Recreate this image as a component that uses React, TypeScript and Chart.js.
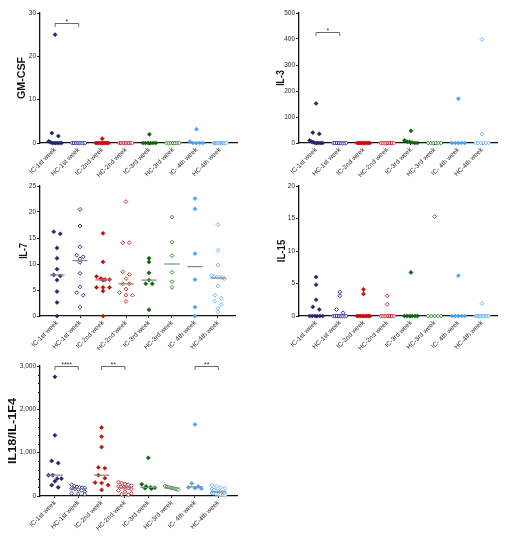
import React, { useEffect, useRef } from 'react';
import { Chart, registerables } from 'chart.js';

Chart.register(...registerables);
Chart.defaults.font.family = '"Liberation Sans", Arial, Helvetica, sans-serif';

// ---------------- DATA ----------------
const categories = [
  'IC-1st week',
  'HC-1st week',
  'IC-2nd week',
  'HC-2nd week',
  'IC-3rd week',
  'HC-3rd week',
  'IC- 4th week',
  'HC-4th week',
];

const gmcsfValues: number[][] = [
  [25, 2.3, 1.6, 0.4, 0.2, 0, 0, 0, 0, 0, 0],
  [0, 0, 0, 0, 0, 0, 0, 0],
  [1.0, 0, 0, 0, 0, 0, 0, 0, 0, 0, 0],
  [0, 0, 0, 0, 0, 0, 0, 0, 0],
  [2.0, 0, 0, 0, 0, 0, 0],
  [0, 0, 0, 0, 0, 0, 0],
  [3.2, 0.3, 0, 0, 0, 0],
  [0, 0, 0, 0, 0, 0, 0, 0, 0, 0, 0, 0],
];

const il3Values: number[][] = [
  [152, 40, 35, 10, 5, 3, 0, 0, 0, 0, 0],
  [0, 0, 0, 0, 0, 0, 0, 0],
  [0, 0, 0, 0, 0, 0, 0, 0, 0, 0],
  [0, 0, 0, 0, 0, 0, 0, 0],
  [47, 10, 5, 4, 2, 0, 0],
  [0, 0, 0, 0, 0, 0],
  [170, 0, 0, 0, 0, 0],
  [398, 35, 0, 0, 0, 0, 0, 0],
];

const il7Values: number[][] = [
  [16.2, 15.8, 13.1, 11.1, 9.0, 7.9, 7.7, 6.9, 4.7, 2.6, 0],
  [20.5, 17.3, 13.3, 11.7, 11.4, 11.0, 10.3, 8.2, 5.6, 4.5, 4.0, 1.7],
  [15.9, 10.4, 7.6, 7.2, 7.0, 7.0, 6.9, 5.5, 5.5, 5.5, 4.8, 0],
  [22.0, 14.1, 14.1, 8.5, 8.0, 7.2, 6.2, 6.2, 5.2, 4.5, 4.0, 4.0, 2.8],
  [11.1, 10.4, 8.3, 6.9, 6.2, 6.2, 1.2],
  [19.0, 14.2, 11.6, 8.4, 6.6, 5.5],
  [22.6, 20.6, 12.0, 7.0, 1.7, 0],
  [17.6, 12.6, 9.8, 7.8, 7.6, 7.5, 7.5, 7.4, 7.2, 5.8, 4.0, 3.4, 2.8, 2.2, 1.5, 0.8],
];

const il15Values: number[][] = [
  [6.0, 4.8, 2.5, 1.4, 1.0, 0, 0, 0, 0, 0, 0],
  [3.7, 3.1, 1.0, 0.5, 0, 0, 0, 0, 0, 0, 0, 0],
  [4.1, 3.4, 0, 0, 0, 0, 0, 0, 0, 0, 0],
  [3.1, 1.8, 0, 0, 0, 0, 0, 0, 0, 0],
  [6.7, 0, 0, 0, 0, 0, 0],
  [15.3, 0, 0, 0, 0, 0],
  [6.2, 0, 0, 0, 0, 0],
  [1.9, 0, 0, 0, 0, 0, 0, 0, 0, 0, 0],
];

const il18Values: number[][] = [
  [2750, 1400, 810, 760, 480, 480, 400, 400, 340, 250, 200],
  [260, 230, 210, 200, 190, 185, 175, 165, 150, 130, 100, 60, 50, 40],
  [1580, 1370, 1130, 660, 640, 480, 410, 310, 300, 250, 140],
  [320, 300, 280, 260, 240, 220, 210, 200, 190, 180, 160, 130, 100, 60, 40, 30],
  [880, 270, 220, 200, 190, 180, 170],
  [230, 215, 200, 190, 180, 170, 160, 150],
  [1650, 290, 220, 200, 180, 170],
  [250, 220, 200, 180, 160, 140, 125, 110, 100, 90, 80, 70, 60, 50, 40, 30, 20, 10],
];

const gmcsfTicks = [0, 10, 20, 30];
const il3Ticks = [0, 100, 200, 300, 400, 500];
const il7Ticks = [0, 5, 10, 15, 20, 25];
const il15Ticks = [0, 5, 10, 15, 20];
const il18Ticks = [0, 1000, 2000, 3000];

type Bracket = { from: number; to: number; y: number; label: string };
const gmcsfBrackets: Bracket[] = [{ from: 0, to: 1, y: 27.7, label: '*' }];
const il3Brackets: Bracket[] = [{ from: 0, to: 1, y: 428, label: '*' }];
const il18Brackets: Bracket[] = [
  { from: 0, to: 1, y: 3000, label: '****' },
  { from: 2, to: 3, y: 3000, label: '**' },
  { from: 6, to: 7, y: 3000, label: '**' },
];

// ---------------- STYLE ----------------
const seriesColors = ['#26266b', '#3535a3', '#c40f0f', '#c8303a', '#0b650b', '#358a35', '#4ea3f3', '#6db5f7'];
const filledSeries = [true, false, true, false, true, false, true, false];

type Rect = { left: number; top: number; width: number; height: number };
type Area = { left: number; top: number; right: number; bottom: number };
type PanelCfg = {
  title: string;
  values: number[][];
  yTicks: number[];
  brackets: Bracket[];
  rect: Rect;
  area: Area; // page coordinates
  xMin: number;
  xMax: number;
  titleX: number; // page coordinate
  titleStretch: number;
  showMedian: boolean;
  minorStep: number;
};

const panels: PanelCfg[] = [
  {
    title: 'GM-CSF', values: gmcsfValues, yTicks: gmcsfTicks, brackets: gmcsfBrackets,
    rect: { left: 0, top: 0, width: 254, height: 180 },
    area: { left: 40, top: 13, right: 237, bottom: 143 },
    xMin: -0.64, xMax: 7.72, titleX: 22, titleStretch: 0.97, showMedian: false, minorStep: 0,
  },
  {
    title: 'IL-3', values: il3Values, yTicks: il3Ticks, brackets: il3Brackets,
    rect: { left: 255, top: 0, width: 254, height: 180 },
    area: { left: 299, top: 13, right: 497, bottom: 143 },
    xMin: -0.72, xMax: 7.63, titleX: 281, titleStretch: 0.8, showMedian: false, minorStep: 0,
  },
  {
    title: 'IL-7', values: il7Values, yTicks: il7Ticks, brackets: [],
    rect: { left: 0, top: 178, width: 254, height: 172 },
    area: { left: 40, top: 186, right: 235, bottom: 316 },
    xMin: -0.74, xMax: 7.74, titleX: 24, titleStretch: 0.8, showMedian: true, minorStep: 0,
  },
  {
    title: 'IL-15', values: il15Values, yTicks: il15Ticks, brackets: [],
    rect: { left: 255, top: 178, width: 254, height: 172 },
    area: { left: 299, top: 186, right: 497, bottom: 316 },
    xMin: -0.72, xMax: 7.63, titleX: 282, titleStretch: 0.88, showMedian: false, minorStep: 0,
  },
  {
    title: 'IL18/IL-1F4', values: il18Values, yTicks: il18Ticks, brackets: il18Brackets,
    rect: { left: 0, top: 350, width: 254, height: 189 },
    area: { left: 40, top: 366, right: 237, bottom: 496 },
    xMin: -0.64, xMax: 7.8, titleX: 13, titleStretch: 1.15, showMedian: true, minorStep: 200,
  },
];

// beeswarm-like horizontal spreading of points with similar values
function swarm(values: number[], valuePerPx: number, unitPerPx: number): number[] {
  const order = values.map((_, i) => i).sort((a, b) => values[b] - values[a]);
  const offsets = new Array(values.length).fill(0);
  let row: number[] = [];
  let start = Infinity;
  const flush = () => {
    const n = row.length;
    if (!n) return;
    const spacing = n > 1 ? Math.min(6.5, 13 / (n - 1)) : 0;
    row.forEach((k, j) => {
      offsets[k] = (j - (n - 1) / 2) * spacing * unitPerPx;
    });
    row = [];
  };
  for (const k of order) {
    if (row.length && start - values[k] > 3.5 * valuePerPx) flush();
    if (!row.length) start = values[k];
    row.push(k);
  }
  flush();
  return offsets;
}

function median(vals: number[]): number {
  const s = [...vals].sort((a, b) => a - b);
  const n = s.length;
  return n % 2 ? s[(n - 1) / 2] : (s[n / 2 - 1] + s[n / 2]) / 2;
}

function Panel({ cfg }: { cfg: PanelCfg }) {
  const ref = useRef<HTMLCanvasElement>(null);
  useEffect(() => {
    const c = cfg;
    const { rect, area } = c;
    const plotW = area.right - area.left;
    const plotH = area.bottom - area.top;
    const yMax = c.yTicks[c.yTicks.length - 1];
    const unitPerPx = (c.xMax - c.xMin) / plotW;
    const valuePerPx = yMax / plotH;

    const datasets = c.values.map((vals, i) => {
      const offs = swarm(vals, valuePerPx, unitPerPx);
      return {
        label: categories[i],
        data: vals.map((v, k) => ({ x: i + offs[k], y: v })),
        pointStyle: 'rectRot',
        pointRadius: filledSeries[i] ? 2.1 : 1.9,
        pointBackgroundColor: filledSeries[i] ? seriesColors[i] : '#ffffff',
        pointBorderColor: seriesColors[i],
        pointBorderWidth: filledSeries[i] ? 0.5 : 1,
        showLine: false,
        clip: false as any,
      };
    });

    const overlay = {
      id: 'overlay',
      afterDatasetsDraw(chart: any) {
        const { ctx, scales } = chart;
        const x = scales.x;
        const y = scales.y;
        const ca = chart.chartArea;
        ctx.save();
        // medians
        if (c.showMedian) {
          ctx.strokeStyle = '#8a8a8a';
          ctx.lineWidth = 1.3;
          c.values.forEach((vals, i) => {
            const m = median(vals);
            const py = y.getPixelForValue(m);
            ctx.beginPath();
            ctx.moveTo(x.getPixelForValue(i - 0.33), py);
            ctx.lineTo(x.getPixelForValue(i + 0.33), py);
            ctx.stroke();
          });
        }
        // brackets
        ctx.strokeStyle = '#6a6a6a';
        ctx.lineWidth = 1;
        ctx.fillStyle = '#333';
        ctx.font = '7px "Liberation Sans", Arial, sans-serif';
        ctx.textAlign = 'center';
        ctx.textBaseline = 'alphabetic';
        c.brackets.forEach((b) => {
          const x1 = x.getPixelForValue(b.from);
          const x2 = x.getPixelForValue(b.to);
          const py = Math.round(y.getPixelForValue(b.y)) + 0.5;
          ctx.beginPath();
          ctx.moveTo(x1, py + 3.5);
          ctx.lineTo(x1, py);
          ctx.lineTo(x2, py);
          ctx.lineTo(x2, py + 3.5);
          ctx.stroke();
          ctx.fillText(b.label, (x1 + x2) / 2, py + 0.5);
        });
        // minor ticks
        if (c.minorStep > 0) {
          ctx.strokeStyle = '#222';
          ctx.lineWidth = 1;
          for (let v = 0; v <= yMax + 1e-9; v += c.minorStep) {
            if (c.yTicks.includes(v)) continue;
            const py = Math.round(y.getPixelForValue(v)) + 0.5;
            ctx.beginPath();
            ctx.moveTo(ca.left - 2, py);
            ctx.lineTo(ca.left, py);
            ctx.stroke();
          }
        }
        // y title
        ctx.fillStyle = '#111';
        ctx.font = 'bold 11px "Liberation Sans", Arial, sans-serif';
        ctx.textAlign = 'center';
        ctx.textBaseline = 'middle';
        ctx.translate(c.titleX - rect.left, (ca.top + ca.bottom) / 2);
        ctx.rotate(-Math.PI / 2);
        ctx.scale(c.titleStretch, 1);
        ctx.fillText(c.title, 0, 0);
        ctx.restore();
      },
    };

    const chart = new Chart(ref.current!, {
      type: 'scatter',
      data: { datasets: datasets as any },
      options: {
        animation: false,
        responsive: false,
        events: [],
        layout: {
          padding: {
            top: area.top - rect.top,
            right: rect.left + rect.width - area.right,
            left: 0,
            bottom: 0,
          },
        },
        plugins: { legend: { display: false }, tooltip: { enabled: false } },
        scales: {
          x: {
            type: 'linear',
            min: c.xMin,
            max: c.xMax,
            afterBuildTicks: (s: any) => {
              s.ticks = categories.map((_, i) => ({ value: i }));
            },
            afterFit: (s: any) => {
              s.height = rect.top + rect.height - area.bottom;
            },
            ticks: {
              autoSkip: false,
              maxRotation: 45,
              minRotation: 45,
              font: { size: 6.5 },
              color: '#2a2a2a',
              padding: 1,
              callback: (v: any) => categories[Math.round(Number(v))] ?? '',
            },
            grid: { drawOnChartArea: false, drawTicks: true, tickLength: 2, color: '#222', lineWidth: 1 },
            border: { display: true, color: '#111', width: 1.3 },
          },
          y: {
            type: 'linear',
            min: 0,
            max: yMax,
            afterBuildTicks: (s: any) => {
              s.ticks = c.yTicks.map((v) => ({ value: v }));
            },
            afterFit: (s: any) => {
              s.width = area.left - rect.left;
            },
            ticks: {
              font: { size: 6.5 },
              color: '#2a2a2a',
              padding: 1,
              callback: (v: any) => Number(v).toLocaleString('en-US'),
            },
            grid: { drawOnChartArea: false, drawTicks: true, tickLength: 3, color: '#222', lineWidth: 1 },
            border: { display: true, color: '#111', width: 1.3 },
          },
        },
      } as any,
      plugins: [overlay],
    });
    return () => chart.destroy();
  }, [cfg]);

  return (
    <canvas
      ref={ref}
      width={cfg.rect.width}
      height={cfg.rect.height}
      style={{
        position: 'absolute',
        left: cfg.rect.left,
        top: cfg.rect.top,
        width: cfg.rect.width,
        height: cfg.rect.height,
      }}
    />
  );
}

export default function App() {
  return (
    <div
      style={{
        position: 'absolute',
        left: 0,
        top: 0,
        width: 509,
        height: 539,
        background: '#ffffff',
        overflow: 'hidden',
      }}
    >
      {panels.map((p) => (
        <Panel key={p.title} cfg={p} />
      ))}
    </div>
  );
}
